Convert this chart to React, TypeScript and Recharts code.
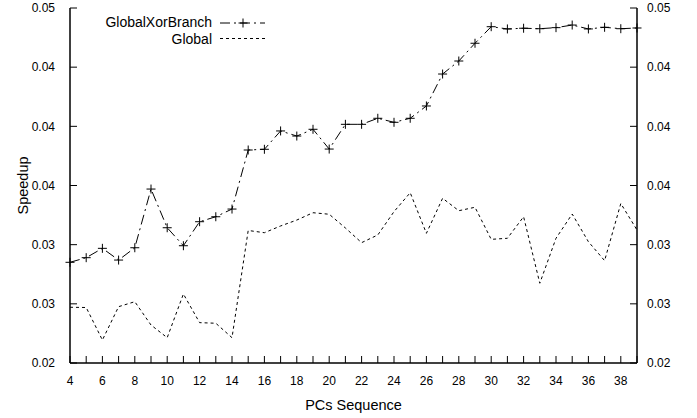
import React from 'react';
import { LineChart, Line, XAxis, YAxis, Legend } from 'recharts';

// PC sequence positions (x axis)
const pcs = [4, 5, 6, 7, 8, 9, 10, 11, 12, 13, 14, 15, 16, 17, 18, 19, 20, 21, 22, 23, 24, 25, 26, 27, 28, 29, 30, 31, 32, 33, 34, 35, 36, 37, 38, 39];

const globalXorBranch = [
    0.02851, 0.02890, 0.02969, 0.02870, 0.02974, 0.03470, 0.03143, 0.02991, 0.03194, 0.03236,
    0.03301, 0.03800, 0.03806, 0.03961, 0.03918, 0.03975, 0.03808, 0.04017, 0.04017, 0.04068,
    0.04034, 0.04068, 0.04172, 0.04442, 0.04552, 0.04702, 0.04842, 0.04823, 0.04829, 0.04825,
    0.04834, 0.04856, 0.04823, 0.04837, 0.04825, 0.04831,
];

const globalOnly = [
    0.02471, 0.02469, 0.02194, 0.02476, 0.02518, 0.02321, 0.02214, 0.02583, 0.02341, 0.02336,
    0.02214, 0.03120, 0.03101, 0.03158, 0.03208, 0.03270, 0.03257, 0.03141, 0.03017, 0.03082,
    0.03279, 0.03439, 0.03096, 0.03392, 0.03287, 0.03316, 0.03045, 0.03054, 0.03236, 0.02674,
    0.03054, 0.03259, 0.03025, 0.02865, 0.03348, 0.03124,
];

const xTicks = [4, 5, 6, 7, 8, 9, 10, 11, 12, 13, 14, 15, 16, 17, 18, 19, 20, 21, 22, 23, 24, 25, 26, 27, 28, 29, 30, 31, 32, 33, 34, 35, 36, 37, 38, 39];
const yTicks = [0.02, 0.025, 0.03, 0.035, 0.04, 0.045, 0.05];
// labels as printed by the original (rounded to 2 decimals)
const yTickLabels = ['0.02', '0.03', '0.03', '0.04', '0.04', '0.04', '0.05'];

const data = pcs.map((pc, i) => ({ pc, xorBranch: globalXorBranch[i], global: globalOnly[i] }));

const FONT = '"Liberation Sans", Arial, Helvetica, sans-serif';
const INK = '#000';
const TICK_LEN = 7;
const BOTTOM_MARGIN = 18;
const LEFT_MARGIN = 15;
const RIGHT_MARGIN = 10;

const BottomTick = ({ x, y, payload }: any) => (
    <g>
        <line x1={x} x2={x} y1={y - BOTTOM_MARGIN} y2={y - BOTTOM_MARGIN - TICK_LEN} stroke={INK} strokeWidth={1} />
        {payload.value % 2 === 0 && (
            <text x={x} y={y} dy="0.35em" textAnchor="middle" fontSize={12} fontFamily={FONT} fill={INK}>
                {payload.value}
            </text>
        )}
    </g>
);

const TopTick = ({ x, y }: any) => (
    <line x1={x} x2={x} y1={y} y2={y + TICK_LEN} stroke={INK} strokeWidth={1} />
);

const LeftTick = ({ x, y, index }: any) => (
    <g>
        <line x1={x + LEFT_MARGIN} x2={x + LEFT_MARGIN + TICK_LEN} y1={y} y2={y} stroke={INK} strokeWidth={1} />
        <text x={x} y={y} dy="0.35em" textAnchor="end" fontSize={12} fontFamily={FONT} fill={INK}>
            {yTickLabels[index]}
        </text>
    </g>
);

const RightTick = ({ x, y, index }: any) => (
    <g>
        <line x1={x - RIGHT_MARGIN} x2={x - RIGHT_MARGIN - TICK_LEN} y1={y} y2={y} stroke={INK} strokeWidth={1} />
        <text x={x} y={y} dy="0.35em" textAnchor="start" fontSize={12} fontFamily={FONT} fill={INK}>
            {yTickLabels[index]}
        </text>
    </g>
);

const PlusMark = ({ cx, cy }: any) => (
    <g>
        <line x1={cx - 4.5} x2={cx + 4.5} y1={cy} y2={cy} stroke={INK} strokeWidth={1} />
        <line x1={cx} x2={cx} y1={cy - 4.5} y2={cy + 4.5} stroke={INK} strokeWidth={1} />
    </g>
);

const LegendBox = () => (
    <svg width={300} height={50} style={{ display: 'block' }}>
        <text x={212} y={22.5} dy="0.35em" textAnchor="end" fontSize={14} fontFamily={FONT} fill={INK}>
            GlobalXorBranch
        </text>
        <line x1={220} x2={265} y1={23} y2={23} stroke={INK} strokeWidth={1} strokeDasharray="10 4 2 4" />
        <PlusMark cx={243} cy={23} />
        <text x={212} y={39} dy="0.35em" textAnchor="end" fontSize={14} fontFamily={FONT} fill={INK}>
            Global
        </text>
        <line x1={220} x2={265} y1={38.5} y2={38.5} stroke={INK} strokeWidth={1} strokeDasharray="3 3" />
    </svg>
);

export default function App() {
    return (
        <div style={{ width: 697, height: 418, background: '#fff' }}>
            <style>{'body{margin:0}'}</style>
            <LineChart width={697} height={418} data={data} margin={{ top: 8, right: 0, bottom: 0, left: 0 }}>
                <XAxis
                    dataKey="pc"
                    type="number"
                    domain={[4, 39]}
                    ticks={xTicks}
                    interval={0}
                    tickLine={false}
                    tickSize={0}
                    tickMargin={BOTTOM_MARGIN}
                    tick={<BottomTick />}
                    height={55}
                    axisLine={{ stroke: INK, strokeWidth: 1.5 }}
                    label={{
                        content: ({ viewBox }: any) => (
                            <text
                                x={viewBox.x + viewBox.width / 2}
                                y={viewBox.y + 42}
                                dy="0.35em"
                                textAnchor="middle"
                                fontSize={14.5}
                                fontFamily={FONT}
                                fill={INK}
                            >
                                PCs Sequence
                            </text>
                        ),
                    }}
                />
                <XAxis
                    xAxisId="top"
                    dataKey="pc"
                    type="number"
                    orientation="top"
                    domain={[4, 39]}
                    ticks={xTicks}
                    interval={0}
                    tickLine={false}
                    tickSize={0}
                    tickMargin={0}
                    tick={<TopTick />}
                    height={0}
                    axisLine={{ stroke: INK, strokeWidth: 1.5 }}
                />
                <YAxis
                    type="number"
                    domain={[0.02, 0.05]}
                    ticks={yTicks}
                    interval={0}
                    tickLine={false}
                    tickSize={0}
                    tickMargin={LEFT_MARGIN}
                    tick={<LeftTick />}
                    width={70}
                    axisLine={{ stroke: INK, strokeWidth: 1.5 }}
                    label={{
                        content: ({ viewBox }: any) => (
                            <text
                                x={viewBox.x + 23}
                                y={viewBox.y + viewBox.height / 2}
                                dy="0.35em"
                                textAnchor="middle"
                                fontSize={14.5}
                                fontFamily={FONT}
                                fill={INK}
                                transform={`rotate(-90 ${viewBox.x + 23} ${viewBox.y + viewBox.height / 2})`}
                            >
                                Speedup
                            </text>
                        ),
                    }}
                />
                <YAxis
                    yAxisId="right"
                    orientation="right"
                    type="number"
                    domain={[0.02, 0.05]}
                    ticks={yTicks}
                    interval={0}
                    tickLine={false}
                    tickSize={0}
                    tickMargin={RIGHT_MARGIN}
                    tick={<RightTick />}
                    width={60}
                    axisLine={{ stroke: INK, strokeWidth: 1.5 }}
                />
                <Legend
                    layout="vertical"
                    align="center"
                    verticalAlign="middle"
                    wrapperStyle={{ top: 0, left: 0, width: 300, height: 50 }}
                    content={() => <LegendBox />}
                />
                <Line
                    type="linear"
                    dataKey="global"
                    stroke={INK}
                    strokeWidth={1}
                    strokeDasharray="3 3"
                    dot={false}
                    activeDot={false}
                    isAnimationActive={false}
                />
                <Line
                    type="linear"
                    dataKey="xorBranch"
                    stroke={INK}
                    strokeWidth={1}
                    strokeDasharray="10 4 2 4"
                    dot={(props: any) => <PlusMark key={props.index} cx={props.cx} cy={props.cy} />}
                    activeDot={false}
                    isAnimationActive={false}
                />
                {/* keeps the top and right axes bound to the data */}
                <Line
                    xAxisId="top"
                    yAxisId="right"
                    dataKey="global"
                    stroke="none"
                    dot={false}
                    activeDot={false}
                    legendType="none"
                    isAnimationActive={false}
                />
            </LineChart>
        </div>
    );
}
